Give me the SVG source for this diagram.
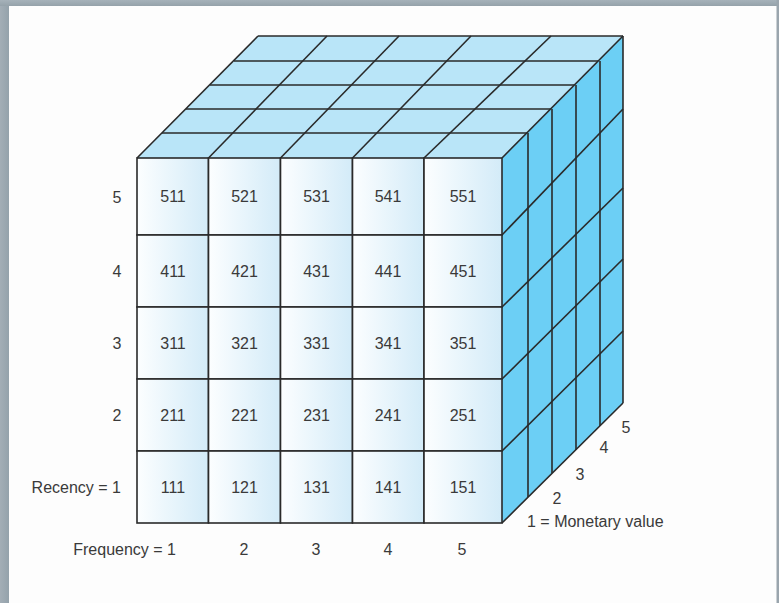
<svg xmlns="http://www.w3.org/2000/svg" width="779" height="603" viewBox="0 0 779 603">
<defs>
<linearGradient id="cellg" x1="0" y1="0" x2="1" y2="0">
<stop offset="0" stop-color="#fcfeff"/>
<stop offset="1" stop-color="#d3ebf8"/>
</linearGradient>
<linearGradient id="lg" x1="0" y1="0" x2="1" y2="0">
<stop offset="0" stop-color="#a3aeb6"/>
<stop offset="1" stop-color="#94a2ab"/>
</linearGradient>
<linearGradient id="tg" x1="0" y1="0" x2="0" y2="1">
<stop offset="0" stop-color="#a6b2ba"/>
<stop offset="1" stop-color="#95a2aa"/>
</linearGradient>
</defs>
<style>
.cell{fill:url(#cellg);stroke:#2a2a2a;stroke-width:1.6}
.ln{stroke:#2a2a2a;stroke-width:1.6;fill:none}
.t{font-family:"Liberation Sans",Arial,sans-serif;font-size:16px;fill:#3a3a3a}
.c{text-anchor:middle}
.e{text-anchor:end}
</style>
<rect x="0" y="0" width="779" height="603" fill="#fdfdfd"/>
<rect x="0" y="0" width="9" height="603" fill="url(#lg)"/>
<rect x="0" y="0" width="779" height="6" fill="url(#tg)"/>
<rect x="776.5" y="0" width="2.5" height="603" fill="#9aa5ad"/>

<g id="top-face">
<polygon points="137,158 258,36 623,36 502,158" fill="#b9e5f8"/>
<g class="ln">
<line x1="258" y1="36" x2="623" y2="36"/>
<line x1="234" y1="61" x2="600" y2="61"/>
<line x1="210" y1="85" x2="576" y2="85"/>
<line x1="186" y1="109" x2="552" y2="109"/>
<line x1="162" y1="133" x2="528" y2="133"/>
<line x1="137" y1="158" x2="258" y2="36"/>
<line x1="208.5" y1="158" x2="327" y2="36"/>
<line x1="280.5" y1="158" x2="399" y2="36"/>
<line x1="352.5" y1="158" x2="471" y2="36"/>
<line x1="424" y1="158" x2="551" y2="36"/>
</g>
</g>

<g id="side-face">
<polygon points="502,158 623,36 623,403 502,523" fill="#6ccff5"/>
<g class="ln">
<line x1="502" y1="158" x2="623" y2="36"/>
<line x1="623" y1="36" x2="623" y2="403"/>
<line x1="600" y1="61" x2="600" y2="426"/>
<line x1="576" y1="85" x2="576" y2="450"/>
<line x1="552" y1="109" x2="552" y2="473"/>
<line x1="528" y1="133" x2="528" y2="497"/>
<line x1="502" y1="235" x2="623" y2="109"/>
<line x1="502" y1="307" x2="623" y2="188"/>
<line x1="502" y1="379" x2="623" y2="259"/>
<line x1="502" y1="451" x2="623" y2="331"/>
<line x1="502" y1="523" x2="623" y2="403"/>
</g>
</g>

<g id="front-face">
<g id="cell-511"><rect class="cell" x="137" y="158" width="71.5" height="77"/><text class="t c" x="173" y="202">511</text></g>
<g id="cell-521"><rect class="cell" x="208.5" y="158" width="72" height="77"/><text class="t c" x="244.5" y="202">521</text></g>
<g id="cell-531"><rect class="cell" x="280.5" y="158" width="72" height="77"/><text class="t c" x="316.5" y="202">531</text></g>
<g id="cell-541"><rect class="cell" x="352.5" y="158" width="71.5" height="77"/><text class="t c" x="388" y="202">541</text></g>
<g id="cell-551"><rect class="cell" x="424" y="158" width="78" height="77"/><text class="t c" x="463" y="202">551</text></g>

<g id="cell-411"><rect class="cell" x="137" y="235" width="71.5" height="72"/><text class="t c" x="173" y="277">411</text></g>
<g id="cell-421"><rect class="cell" x="208.5" y="235" width="72" height="72"/><text class="t c" x="244.5" y="277">421</text></g>
<g id="cell-431"><rect class="cell" x="280.5" y="235" width="72" height="72"/><text class="t c" x="316.5" y="277">431</text></g>
<g id="cell-441"><rect class="cell" x="352.5" y="235" width="71.5" height="72"/><text class="t c" x="388" y="277">441</text></g>
<g id="cell-451"><rect class="cell" x="424" y="235" width="78" height="72"/><text class="t c" x="463" y="277">451</text></g>

<g id="cell-311"><rect class="cell" x="137" y="307" width="71.5" height="72"/><text class="t c" x="173" y="349">311</text></g>
<g id="cell-321"><rect class="cell" x="208.5" y="307" width="72" height="72"/><text class="t c" x="244.5" y="349">321</text></g>
<g id="cell-331"><rect class="cell" x="280.5" y="307" width="72" height="72"/><text class="t c" x="316.5" y="349">331</text></g>
<g id="cell-341"><rect class="cell" x="352.5" y="307" width="71.5" height="72"/><text class="t c" x="388" y="349">341</text></g>
<g id="cell-351"><rect class="cell" x="424" y="307" width="78" height="72"/><text class="t c" x="463" y="349">351</text></g>

<g id="cell-211"><rect class="cell" x="137" y="379" width="71.5" height="72"/><text class="t c" x="173" y="421">211</text></g>
<g id="cell-221"><rect class="cell" x="208.5" y="379" width="72" height="72"/><text class="t c" x="244.5" y="421">221</text></g>
<g id="cell-231"><rect class="cell" x="280.5" y="379" width="72" height="72"/><text class="t c" x="316.5" y="421">231</text></g>
<g id="cell-241"><rect class="cell" x="352.5" y="379" width="71.5" height="72"/><text class="t c" x="388" y="421">241</text></g>
<g id="cell-251"><rect class="cell" x="424" y="379" width="78" height="72"/><text class="t c" x="463" y="421">251</text></g>

<g id="cell-111"><rect class="cell" x="137" y="451" width="71.5" height="72"/><text class="t c" x="173" y="493">111</text></g>
<g id="cell-121"><rect class="cell" x="208.5" y="451" width="72" height="72"/><text class="t c" x="244.5" y="493">121</text></g>
<g id="cell-131"><rect class="cell" x="280.5" y="451" width="72" height="72"/><text class="t c" x="316.5" y="493">131</text></g>
<g id="cell-141"><rect class="cell" x="352.5" y="451" width="71.5" height="72"/><text class="t c" x="388" y="493">141</text></g>
<g id="cell-151"><rect class="cell" x="424" y="451" width="78" height="72"/><text class="t c" x="463" y="493">151</text></g>
</g>

<g id="recency-labels">
<text class="t c" x="117" y="203">5</text>
<text class="t c" x="117" y="277">4</text>
<text class="t c" x="117" y="349">3</text>
<text class="t c" x="117" y="421">2</text>
<text class="t e" x="121" y="493">Recency = 1</text>
</g>
<g id="frequency-labels">
<text class="t e" x="176" y="555">Frequency = 1</text>
<text class="t c" x="244" y="555">2</text>
<text class="t c" x="316" y="555">3</text>
<text class="t c" x="388" y="555">4</text>
<text class="t c" x="462" y="555">5</text>
</g>
<g id="monetary-labels">
<text class="t" x="527" y="527">1 = Monetary value</text>
<text class="t c" x="557" y="504">2</text>
<text class="t c" x="580" y="480">3</text>
<text class="t c" x="604" y="453">4</text>
<text class="t c" x="626" y="433">5</text>
</g>
</svg>
